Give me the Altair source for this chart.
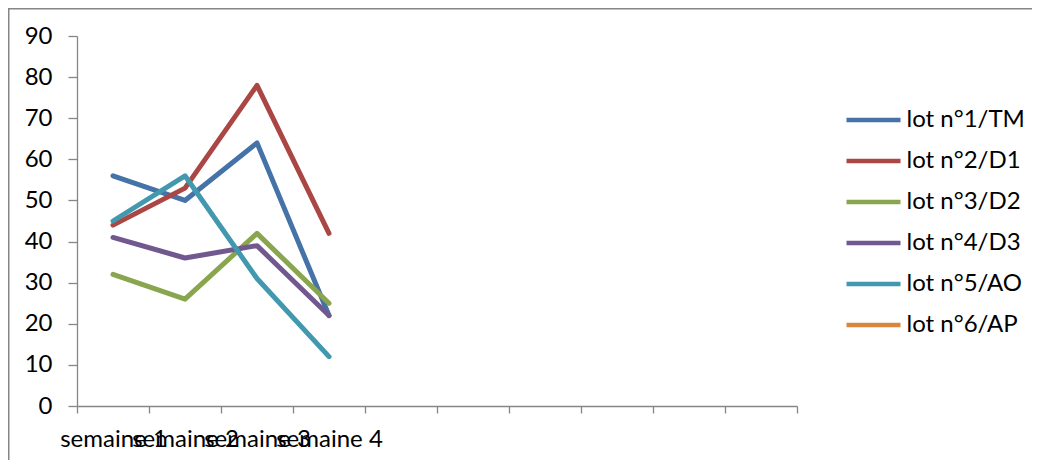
import json
import altair as alt
import pandas as pd

weeks = ["semaine 1", "semaine 2", "semaine 3", "semaine 4"]
n_slots = 10
lots = ["lot n°1/TM", "lot n°2/D1", "lot n°3/D2", "lot n°4/D3", "lot n°5/AO", "lot n°6/AP"]
lot1 = [56, 50, 64, 22]
lot2 = [44, 53, 78, 42]
lot3 = [32, 26, 42, 25]
lot4 = [41, 36, 39, 22]
lot5 = [45, 56, 31, 12]
lot6 = []  # no values, legend only
colors = ["#4572A7", "#AA4643", "#89A54E", "#71588F", "#4198AF", "#DB843D"]
y_ticks = [0, 10, 20, 30, 40, 50, 60, 70, 80, 90]

series = [lot1, lot2, lot3, lot4, lot5, lot6]
rows = []
for name, vals in zip(lots, series):
    for i, v in enumerate(vals):
        rows.append({"lot": name, "week": weeks[i], "pos": i + 0.5, "value": v})
df = pd.DataFrame(rows)

FONT = "Lato"
GRAY = "#868686"
W, H = 720, 370
PL, PT, PR, PB = 69, 28, 235, 54

label_expr = "datum.value < %d ? %s[datum.value] : ''" % (len(weeks), json.dumps(weeks))

lines = alt.Chart(df).mark_line(strokeWidth=5, strokeCap="round", strokeJoin="round").encode(
    x=alt.X("pos:Q", scale=alt.Scale(domain=[0, n_slots], nice=False, zero=False),
            axis=alt.Axis(title=None, values=list(range(n_slots + 1)), labelExpr=label_expr,
                          labelOffset=W / n_slots / 2, labelOverlap=False, labelFlush=False,
                          labelBound=False, grid=False, tickSize=7, labelPadding=33,
                          labelBaseline="alphabetic", labelAlign="center",
                          labelFont=FONT, labelFontSize=24, labelColor="#000000",
                          domainColor=GRAY, tickColor=GRAY, domainWidth=1.3, tickWidth=1.3)),
    y=alt.Y("value:Q", scale=alt.Scale(domain=[0, 90], nice=False),
            axis=alt.Axis(title=None, values=y_ticks, grid=False, tickSize=9, labelPadding=16,
                          labelFont=FONT, labelFontSize=24, labelColor="#000000",
                          domainColor=GRAY, tickColor=GRAY, domainWidth=1.3, tickWidth=1.3)),
    color=alt.Color("lot:N", scale=alt.Scale(domain=lots, range=colors),
                    legend=alt.Legend(title=None, orient="none", legendX=767, legendY=68,
                                      symbolType="M-2,0H2", symbolSize=729, symbolStrokeWidth=4.5,
                                      symbolOffset=13.5, labelOffset=17, rowPadding=13,
                                      padding=0, labelFont=FONT, labelFontSize=24,
                                      labelColor="#000000", symbolFillColor="transparent")),
    detail="lot:N",
)

frame_top = alt.Chart(pd.DataFrame({"k": [0]})).mark_rule(color=GRAY, strokeWidth=1.5).encode(
    x=alt.value(-PL + 0.5), x2=alt.value(W + PR), y=alt.value(-PT + 0.75))
frame_left = alt.Chart(pd.DataFrame({"k": [0]})).mark_rule(color=GRAY, strokeWidth=1.5).encode(
    x=alt.value(-PL + 0.75), y=alt.value(-PT), y2=alt.value(H + PB))

chart = alt.layer(frame_top, frame_left, lines).properties(
    width=W, height=H,
    background="white",
    autosize=alt.AutoSizeParams(type="none"),
    padding={"left": PL, "top": PT, "right": PR, "bottom": PB},
).configure_view(stroke=None, strokeWidth=0)

chart.save("out.html", embed_options={"renderer": "svg", "actions": False})
